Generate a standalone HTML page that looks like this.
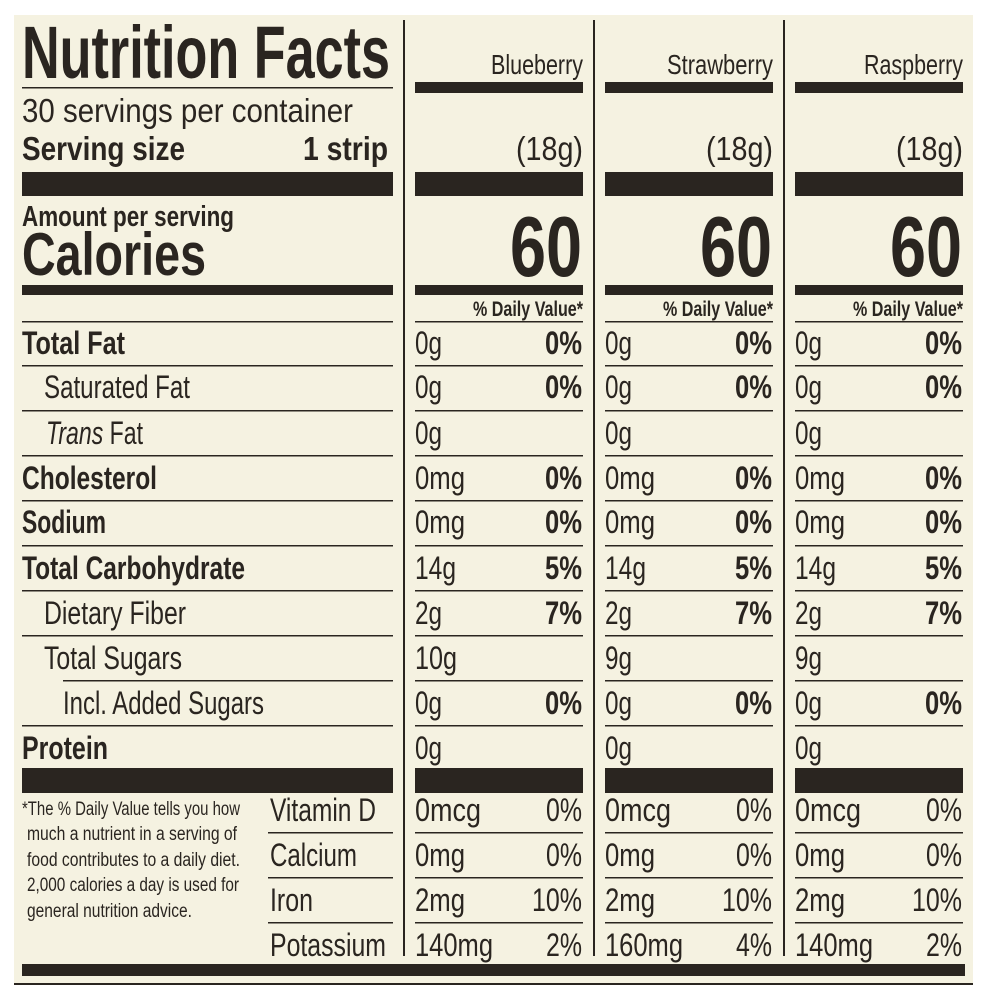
<!DOCTYPE html>
<html><head><meta charset="utf-8"><style>
html,body{margin:0;padding:0;background:#fff;width:988px;height:1000px;overflow:hidden}
svg{display:block}
text{font-family:"Liberation Sans Narrow","Liberation Sans",sans-serif;fill:#2a2520}
.b{font-weight:bold}
</style></head><body>
<svg width="988" height="1000" viewBox="0 0 988 1000" xmlns="http://www.w3.org/2000/svg">
<rect x="14" y="15" width="959" height="970" fill="#f5f2e1"/>
<g fill="#2a2520">
<rect x="14" y="983" width="959" height="2"/>
<!-- vertical dividers -->
<rect x="403" y="20" width="2" height="936"/>
<rect x="593" y="20" width="2" height="936"/>
<rect x="783" y="20" width="2" height="936"/>
<!-- left section -->
<rect x="22" y="87" width="371" height="1.5"/>
<rect x="22" y="172" width="371" height="24"/>
<rect x="22" y="285" width="371" height="10"/>
<rect x="22" y="321" width="371" height="1.5"/>
<rect x="22" y="365" width="371" height="1.5"/>
<rect x="22" y="410" width="371" height="1.5"/>
<rect x="22" y="455" width="371" height="1.5"/>
<rect x="22" y="500" width="371" height="1.5"/>
<rect x="22" y="545" width="371" height="1.5"/>
<rect x="22" y="590" width="371" height="1.5"/>
<rect x="22" y="635" width="371" height="1.5"/>
<rect x="63" y="680" width="330" height="1.5"/>
<rect x="22" y="725" width="371" height="1.5"/>
<rect x="22" y="768" width="371" height="25"/>
<rect x="268" y="832" width="125" height="1.5"/>
<rect x="268" y="877" width="125" height="1.5"/>
<rect x="268" y="922" width="125" height="1.5"/>
<rect x="22" y="964" width="943" height="12"/>
</g>
<text class="b" x="22" y="78" font-size="74" textLength="368" lengthAdjust="spacingAndGlyphs">Nutrition Facts</text>
<text x="22" y="122" font-size="33" textLength="331" lengthAdjust="spacingAndGlyphs">30 servings per container</text>
<text class="b" x="22" y="160" font-size="33" textLength="163" lengthAdjust="spacingAndGlyphs">Serving size</text>
<text class="b" x="303" y="160" font-size="33" textLength="85" lengthAdjust="spacingAndGlyphs">1 strip</text>
<text class="b" x="22" y="226" font-size="29" textLength="212" lengthAdjust="spacingAndGlyphs">Amount per serving</text>
<text class="b" x="22" y="275" font-size="60" textLength="184" lengthAdjust="spacingAndGlyphs">Calories</text>
<g font-size="32">
<text class="b" x="22" y="354" textLength="103" lengthAdjust="spacingAndGlyphs">Total Fat</text>
<text x="44" y="398" textLength="146" lengthAdjust="spacingAndGlyphs">Saturated Fat</text>
<text x="46" y="444" textLength="97" lengthAdjust="spacingAndGlyphs"><tspan font-style="italic">Trans</tspan> Fat</text>
<text class="b" x="22" y="489" textLength="135" lengthAdjust="spacingAndGlyphs">Cholesterol</text>
<text class="b" x="22" y="533" textLength="84" lengthAdjust="spacingAndGlyphs">Sodium</text>
<text class="b" x="22" y="579" textLength="223" lengthAdjust="spacingAndGlyphs">Total Carbohydrate</text>
<text x="44" y="624" textLength="142" lengthAdjust="spacingAndGlyphs">Dietary Fiber</text>
<text x="44" y="669" textLength="138" lengthAdjust="spacingAndGlyphs">Total Sugars</text>
<text x="63" y="714" textLength="201" lengthAdjust="spacingAndGlyphs">Incl. Added Sugars</text>
<text class="b" x="22" y="759" textLength="86" lengthAdjust="spacingAndGlyphs">Protein</text>
<text x="270" y="821" textLength="106" lengthAdjust="spacingAndGlyphs">Vitamin D</text>
<text x="270" y="866" textLength="87" lengthAdjust="spacingAndGlyphs">Calcium</text>
<text x="270" y="911" textLength="43" lengthAdjust="spacingAndGlyphs">Iron</text>
<text x="270" y="956" textLength="116" lengthAdjust="spacingAndGlyphs">Potassium</text>
</g>
<g font-size="19">
<text x="22" y="815" textLength="218" lengthAdjust="spacingAndGlyphs">*The % Daily Value tells you how</text>
<text x="27" y="840" textLength="210" lengthAdjust="spacingAndGlyphs">much a nutrient in a serving of</text>
<text x="27" y="866" textLength="213" lengthAdjust="spacingAndGlyphs">food contributes to a daily diet.</text>
<text x="27" y="891" textLength="212" lengthAdjust="spacingAndGlyphs">2,000 calories a day is used for</text>
<text x="27" y="917" textLength="165" lengthAdjust="spacingAndGlyphs">general nutrition advice.</text>
</g>

<!-- COLUMN 1 -->
<g transform="translate(0,0)">
<g fill="#2a2520">
<rect x="415" y="82" width="168" height="11"/>
<rect x="415" y="172" width="168" height="24"/>
<rect x="415" y="285" width="168" height="10"/>
<rect x="415" y="321" width="168" height="1.5"/>
<rect x="415" y="365" width="168" height="1.5"/>
<rect x="415" y="410" width="168" height="1.5"/>
<rect x="415" y="455" width="168" height="1.5"/>
<rect x="415" y="500" width="168" height="1.5"/>
<rect x="415" y="545" width="168" height="1.5"/>
<rect x="415" y="590" width="168" height="1.5"/>
<rect x="415" y="635" width="168" height="1.5"/>
<rect x="415" y="680" width="168" height="1.5"/>
<rect x="415" y="725" width="168" height="1.5"/>
<rect x="415" y="768" width="168" height="25"/>
<rect x="415" y="832" width="168" height="1.5"/>
<rect x="415" y="877" width="168" height="1.5"/>
<rect x="415" y="922" width="168" height="1.5"/>
</g>
<text x="491" y="74" font-size="28" textLength="92" lengthAdjust="spacingAndGlyphs">Blueberry</text>
<text x="516" y="160" font-size="33" textLength="67" lengthAdjust="spacingAndGlyphs">(18g)</text>
<text class="b" x="510" y="276" font-size="85" textLength="72" lengthAdjust="spacingAndGlyphs">60</text>
<text class="b" x="473" y="316" font-size="21" textLength="110" lengthAdjust="spacingAndGlyphs">% Daily Value*</text>
<g font-size="32">
<text x="415" y="354" textLength="27" lengthAdjust="spacingAndGlyphs">0g</text>
<text x="415" y="398" textLength="27" lengthAdjust="spacingAndGlyphs">0g</text>
<text x="415" y="444" textLength="27" lengthAdjust="spacingAndGlyphs">0g</text>
<text x="415" y="489" textLength="50" lengthAdjust="spacingAndGlyphs">0mg</text>
<text x="415" y="533" textLength="50" lengthAdjust="spacingAndGlyphs">0mg</text>
<text x="415" y="579" textLength="41" lengthAdjust="spacingAndGlyphs">14g</text>
<text x="415" y="624" textLength="27" lengthAdjust="spacingAndGlyphs">2g</text>
<text x="415" y="669" textLength="42" lengthAdjust="spacingAndGlyphs">10g</text>
<text x="415" y="714" textLength="27" lengthAdjust="spacingAndGlyphs">0g</text>
<text x="415" y="759" textLength="27" lengthAdjust="spacingAndGlyphs">0g</text>
<text class="b" x="545" y="354" textLength="37" lengthAdjust="spacingAndGlyphs">0%</text>
<text class="b" x="545" y="398" textLength="37" lengthAdjust="spacingAndGlyphs">0%</text>
<text class="b" x="545" y="489" textLength="37" lengthAdjust="spacingAndGlyphs">0%</text>
<text class="b" x="545" y="533" textLength="37" lengthAdjust="spacingAndGlyphs">0%</text>
<text class="b" x="545" y="579" textLength="37" lengthAdjust="spacingAndGlyphs">5%</text>
<text class="b" x="545" y="624" textLength="37" lengthAdjust="spacingAndGlyphs">7%</text>
<text class="b" x="545" y="714" textLength="37" lengthAdjust="spacingAndGlyphs">0%</text>
<text x="415" y="821" textLength="66" lengthAdjust="spacingAndGlyphs">0mcg</text>
<text x="415" y="866" textLength="50" lengthAdjust="spacingAndGlyphs">0mg</text>
<text x="415" y="911" textLength="50" lengthAdjust="spacingAndGlyphs">2mg</text>
<text x="415" y="956" textLength="78" lengthAdjust="spacingAndGlyphs">140mg</text>
<text x="546" y="821" textLength="36" lengthAdjust="spacingAndGlyphs">0%</text>
<text x="546" y="866" textLength="36" lengthAdjust="spacingAndGlyphs">0%</text>
<text x="532" y="911" textLength="50" lengthAdjust="spacingAndGlyphs">10%</text>
<text x="546" y="956" textLength="36" lengthAdjust="spacingAndGlyphs">2%</text>
</g>
</g>

<!-- COLUMN 2 -->
<g transform="translate(190,0)">
<g fill="#2a2520">
<rect x="415" y="82" width="168" height="11"/>
<rect x="415" y="172" width="168" height="24"/>
<rect x="415" y="285" width="168" height="10"/>
<rect x="415" y="321" width="168" height="1.5"/>
<rect x="415" y="365" width="168" height="1.5"/>
<rect x="415" y="410" width="168" height="1.5"/>
<rect x="415" y="455" width="168" height="1.5"/>
<rect x="415" y="500" width="168" height="1.5"/>
<rect x="415" y="545" width="168" height="1.5"/>
<rect x="415" y="590" width="168" height="1.5"/>
<rect x="415" y="635" width="168" height="1.5"/>
<rect x="415" y="680" width="168" height="1.5"/>
<rect x="415" y="725" width="168" height="1.5"/>
<rect x="415" y="768" width="168" height="25"/>
<rect x="415" y="832" width="168" height="1.5"/>
<rect x="415" y="877" width="168" height="1.5"/>
<rect x="415" y="922" width="168" height="1.5"/>
</g>
<text x="477" y="74" font-size="28" textLength="106" lengthAdjust="spacingAndGlyphs">Strawberry</text>
<text x="516" y="160" font-size="33" textLength="67" lengthAdjust="spacingAndGlyphs">(18g)</text>
<text class="b" x="510" y="276" font-size="85" textLength="72" lengthAdjust="spacingAndGlyphs">60</text>
<text class="b" x="473" y="316" font-size="21" textLength="110" lengthAdjust="spacingAndGlyphs">% Daily Value*</text>
<g font-size="32">
<text x="415" y="354" textLength="27" lengthAdjust="spacingAndGlyphs">0g</text>
<text x="415" y="398" textLength="27" lengthAdjust="spacingAndGlyphs">0g</text>
<text x="415" y="444" textLength="27" lengthAdjust="spacingAndGlyphs">0g</text>
<text x="415" y="489" textLength="50" lengthAdjust="spacingAndGlyphs">0mg</text>
<text x="415" y="533" textLength="50" lengthAdjust="spacingAndGlyphs">0mg</text>
<text x="415" y="579" textLength="41" lengthAdjust="spacingAndGlyphs">14g</text>
<text x="415" y="624" textLength="27" lengthAdjust="spacingAndGlyphs">2g</text>
<text x="415" y="669" textLength="27" lengthAdjust="spacingAndGlyphs">9g</text>
<text x="415" y="714" textLength="27" lengthAdjust="spacingAndGlyphs">0g</text>
<text x="415" y="759" textLength="27" lengthAdjust="spacingAndGlyphs">0g</text>
<text class="b" x="545" y="354" textLength="37" lengthAdjust="spacingAndGlyphs">0%</text>
<text class="b" x="545" y="398" textLength="37" lengthAdjust="spacingAndGlyphs">0%</text>
<text class="b" x="545" y="489" textLength="37" lengthAdjust="spacingAndGlyphs">0%</text>
<text class="b" x="545" y="533" textLength="37" lengthAdjust="spacingAndGlyphs">0%</text>
<text class="b" x="545" y="579" textLength="37" lengthAdjust="spacingAndGlyphs">5%</text>
<text class="b" x="545" y="624" textLength="37" lengthAdjust="spacingAndGlyphs">7%</text>
<text class="b" x="545" y="714" textLength="37" lengthAdjust="spacingAndGlyphs">0%</text>
<text x="415" y="821" textLength="66" lengthAdjust="spacingAndGlyphs">0mcg</text>
<text x="415" y="866" textLength="50" lengthAdjust="spacingAndGlyphs">0mg</text>
<text x="415" y="911" textLength="50" lengthAdjust="spacingAndGlyphs">2mg</text>
<text x="415" y="956" textLength="78" lengthAdjust="spacingAndGlyphs">160mg</text>
<text x="546" y="821" textLength="36" lengthAdjust="spacingAndGlyphs">0%</text>
<text x="546" y="866" textLength="36" lengthAdjust="spacingAndGlyphs">0%</text>
<text x="532" y="911" textLength="50" lengthAdjust="spacingAndGlyphs">10%</text>
<text x="546" y="956" textLength="36" lengthAdjust="spacingAndGlyphs">4%</text>
</g>
</g>

<!-- COLUMN 3 -->
<g transform="translate(380,0)">
<g fill="#2a2520">
<rect x="415" y="82" width="168" height="11"/>
<rect x="415" y="172" width="168" height="24"/>
<rect x="415" y="285" width="168" height="10"/>
<rect x="415" y="321" width="168" height="1.5"/>
<rect x="415" y="365" width="168" height="1.5"/>
<rect x="415" y="410" width="168" height="1.5"/>
<rect x="415" y="455" width="168" height="1.5"/>
<rect x="415" y="500" width="168" height="1.5"/>
<rect x="415" y="545" width="168" height="1.5"/>
<rect x="415" y="590" width="168" height="1.5"/>
<rect x="415" y="635" width="168" height="1.5"/>
<rect x="415" y="680" width="168" height="1.5"/>
<rect x="415" y="725" width="168" height="1.5"/>
<rect x="415" y="768" width="168" height="25"/>
<rect x="415" y="832" width="168" height="1.5"/>
<rect x="415" y="877" width="168" height="1.5"/>
<rect x="415" y="922" width="168" height="1.5"/>
</g>
<text x="484" y="74" font-size="28" textLength="99" lengthAdjust="spacingAndGlyphs">Raspberry</text>
<text x="516" y="160" font-size="33" textLength="67" lengthAdjust="spacingAndGlyphs">(18g)</text>
<text class="b" x="510" y="276" font-size="85" textLength="72" lengthAdjust="spacingAndGlyphs">60</text>
<text class="b" x="473" y="316" font-size="21" textLength="110" lengthAdjust="spacingAndGlyphs">% Daily Value*</text>
<g font-size="32">
<text x="415" y="354" textLength="27" lengthAdjust="spacingAndGlyphs">0g</text>
<text x="415" y="398" textLength="27" lengthAdjust="spacingAndGlyphs">0g</text>
<text x="415" y="444" textLength="27" lengthAdjust="spacingAndGlyphs">0g</text>
<text x="415" y="489" textLength="50" lengthAdjust="spacingAndGlyphs">0mg</text>
<text x="415" y="533" textLength="50" lengthAdjust="spacingAndGlyphs">0mg</text>
<text x="415" y="579" textLength="41" lengthAdjust="spacingAndGlyphs">14g</text>
<text x="415" y="624" textLength="27" lengthAdjust="spacingAndGlyphs">2g</text>
<text x="415" y="669" textLength="27" lengthAdjust="spacingAndGlyphs">9g</text>
<text x="415" y="714" textLength="27" lengthAdjust="spacingAndGlyphs">0g</text>
<text x="415" y="759" textLength="27" lengthAdjust="spacingAndGlyphs">0g</text>
<text class="b" x="545" y="354" textLength="37" lengthAdjust="spacingAndGlyphs">0%</text>
<text class="b" x="545" y="398" textLength="37" lengthAdjust="spacingAndGlyphs">0%</text>
<text class="b" x="545" y="489" textLength="37" lengthAdjust="spacingAndGlyphs">0%</text>
<text class="b" x="545" y="533" textLength="37" lengthAdjust="spacingAndGlyphs">0%</text>
<text class="b" x="545" y="579" textLength="37" lengthAdjust="spacingAndGlyphs">5%</text>
<text class="b" x="545" y="624" textLength="37" lengthAdjust="spacingAndGlyphs">7%</text>
<text class="b" x="545" y="714" textLength="37" lengthAdjust="spacingAndGlyphs">0%</text>
<text x="415" y="821" textLength="66" lengthAdjust="spacingAndGlyphs">0mcg</text>
<text x="415" y="866" textLength="50" lengthAdjust="spacingAndGlyphs">0mg</text>
<text x="415" y="911" textLength="50" lengthAdjust="spacingAndGlyphs">2mg</text>
<text x="415" y="956" textLength="78" lengthAdjust="spacingAndGlyphs">140mg</text>
<text x="546" y="821" textLength="36" lengthAdjust="spacingAndGlyphs">0%</text>
<text x="546" y="866" textLength="36" lengthAdjust="spacingAndGlyphs">0%</text>
<text x="532" y="911" textLength="50" lengthAdjust="spacingAndGlyphs">10%</text>
<text x="546" y="956" textLength="36" lengthAdjust="spacingAndGlyphs">2%</text>
</g>
</g>
</svg>
</body></html>
